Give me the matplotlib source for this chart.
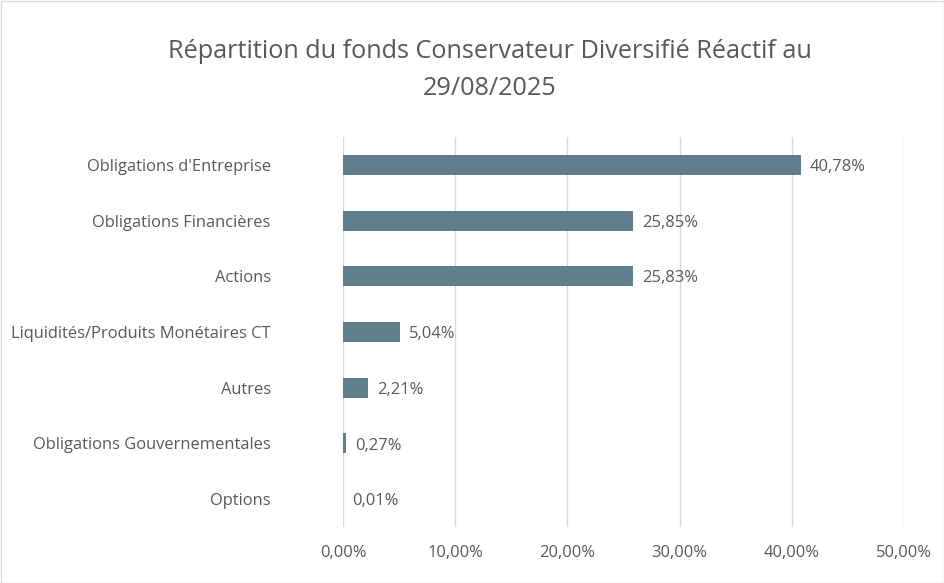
import matplotlib
matplotlib.use("Agg")
import matplotlib.pyplot as plt
from matplotlib.patches import Rectangle
from matplotlib.ticker import FuncFormatter

categories = ["Obligations d'Entreprise", "Obligations Financières", "Actions",
              "Liquidités/Produits Monétaires CT", "Autres",
              "Obligations Gouvernementales", "Options"]
values = [40.78, 25.85, 25.83, 5.04, 2.21, 0.27, 0.01]
xticks = [0, 10, 20, 30, 40, 50]
title = "Répartition du fonds Conservateur Diversifié Réactif au\n29/08/2025"

TEXT = "#595959"
BAR = "#5F7D8A"
GRID = "#D9D9D9"
FONT = ["Open Sans", "DejaVu Sans"]

plt.rcParams['font.family'] = FONT

fig = plt.figure(figsize=(9.45, 5.83), dpi=100)
fig.patches.append(Rectangle((0.5/945, 0.5/583), 1 - 1.5/945, 1 - 1.5/583,
                             transform=fig.transFigure, fill=False,
                             edgecolor=GRID, linewidth=1))

ax = fig.add_axes([343/945, 1 - 527/583, (904 - 343)/945, (527 - 137)/583])
ypos = list(range(len(categories)))
ax.barh(ypos, values, height=0.36, color=BAR, zorder=3)
ax.set_ylim(len(categories) - 0.5, -0.5)
ax.set_xlim(0, 50)
ax.set_xticks(xticks)
ax.xaxis.set_major_formatter(FuncFormatter(lambda v, p: f"{v:.2f}%".replace(".", ",")))
ax.set_yticks(ypos)
ax.set_yticklabels(categories)
ax.grid(axis='x', color=GRID, linewidth=1, zorder=0)
for s in ax.spines.values():
    s.set_visible(False)
ax.tick_params(axis='both', length=0, colors=TEXT, labelsize=11.9)
ax.tick_params(axis='y', pad=52)
ax.tick_params(axis='x', pad=13)

for y, v in zip(ypos, values):
    ax.annotate(f"{v:.2f}%".replace(".", ","), xy=(v, y), xytext=(6.5, -1.5),
                textcoords="offset points", va='center', ha='left',
                color=TEXT, fontsize=11.9)

fig.text(490/945, 1 - 70/583, title, ha='center', va='center',
         color=TEXT, fontsize=18.2, linespacing=1.6)

fig.savefig("out.png", dpi=100)
